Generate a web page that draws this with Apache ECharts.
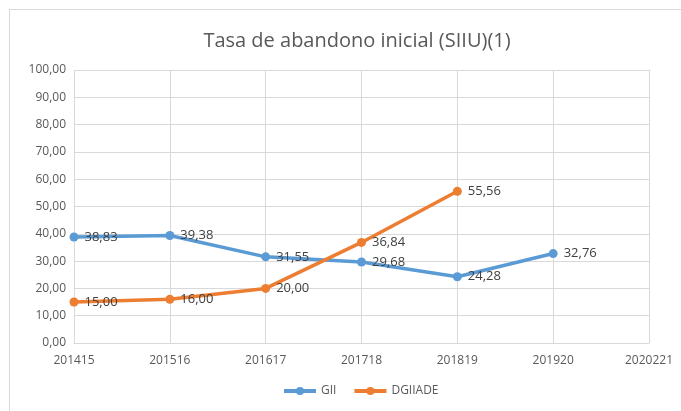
<!DOCTYPE html>
<html>
<head>
<meta charset="utf-8">
<script src="https://cdn.jsdelivr.net/npm/echarts@6/dist/echarts.min.js"></script>
<style>
  html, body { margin: 0; padding: 0; background: #fff; }
  #box { position: absolute; left: 9px; top: 9px; width: 680px; height: 410px; border: 1px solid #d9d9d9; box-sizing: border-box; }
  #main { width: 681px; height: 411px; position: absolute; left: 0; top: 0; }
</style>
</head>
<body>
<div id="box"></div>
<div id="main"></div>
<script>
var categories = ['201415', '201516', '201617', '201718', '201819', '201920', '2020221'];
var gii = [38.83, 39.38, 31.55, 29.68, 24.28, 32.76, null];
var dgiiade = [15.00, 16.00, 20.00, 36.84, 55.56, null, null];

var chart = echarts.init(document.getElementById('main'), null, { renderer: 'canvas' });

function fmt(v) {
  return v.toFixed(2).replace('.', ',');
}

function lineSeries(name, data, color) {
  return {
    name: name,
    type: 'line',
    data: data,
    symbol: 'circle',
    symbolSize: 9,
    lineStyle: { width: 3.5, color: color },
    itemStyle: { color: color },
    label: {
      show: true,
      position: 'right',
      distance: 6,
      color: '#404040',
      fontSize: 13,
      fontFamily: 'Open Sans',
      formatter: function (p) { return fmt(p.value); }
    },
    connectNulls: false
  };
}

var option = {
  backgroundColor: 'transparent',
  animation: false,
  title: {
    text: 'Tasa de abandono inicial (SIIU)(1)',
    left: 352,
    textAlign: 'center',
    top: 26,
    textStyle: { color: '#595959', fontSize: 20, fontWeight: 'normal', fontFamily: 'Open Sans' }
  },
  color: ['#5B9BD5', '#ED7D31'],
  legend: {
    data: ['GII', 'DGIIADE'],
    bottom: 9,
    left: 277,
    itemWidth: 32,
    itemHeight: 10,
    itemGap: 16,
    lineStyle: { width: 4 },
    textStyle: { color: '#595959', fontSize: 12, fontFamily: 'Open Sans' }
  },
  grid: {
    left: 74,
    right: 32,
    top: 70,
    bottom: 68,
    containLabel: false
  },
  xAxis: {
    type: 'category',
    boundaryGap: false,
    data: categories,
    axisLine: { lineStyle: { color: '#d9d9d9' } },
    axisTick: { show: false },
    axisLabel: { color: '#595959', fontSize: 12, margin: 12, fontFamily: 'Open Sans' },
    splitLine: { show: true, lineStyle: { color: '#d9d9d9' } }
  },
  yAxis: {
    type: 'value',
    min: 0,
    max: 100,
    interval: 10,
    axisLine: { show: false },
    axisTick: { show: false },
    axisLabel: {
      color: '#595959', fontSize: 12, margin: 8, fontFamily: 'Open Sans',
      formatter: function (v) { return fmt(v); }
    },
    splitLine: { lineStyle: { color: '#d9d9d9' } }
  },
  series: [
    lineSeries('GII', gii, '#5B9BD5'),
    lineSeries('DGIIADE', dgiiade, '#ED7D31')
  ]
};

chart.setOption(option);
</script>
</body>
</html>
